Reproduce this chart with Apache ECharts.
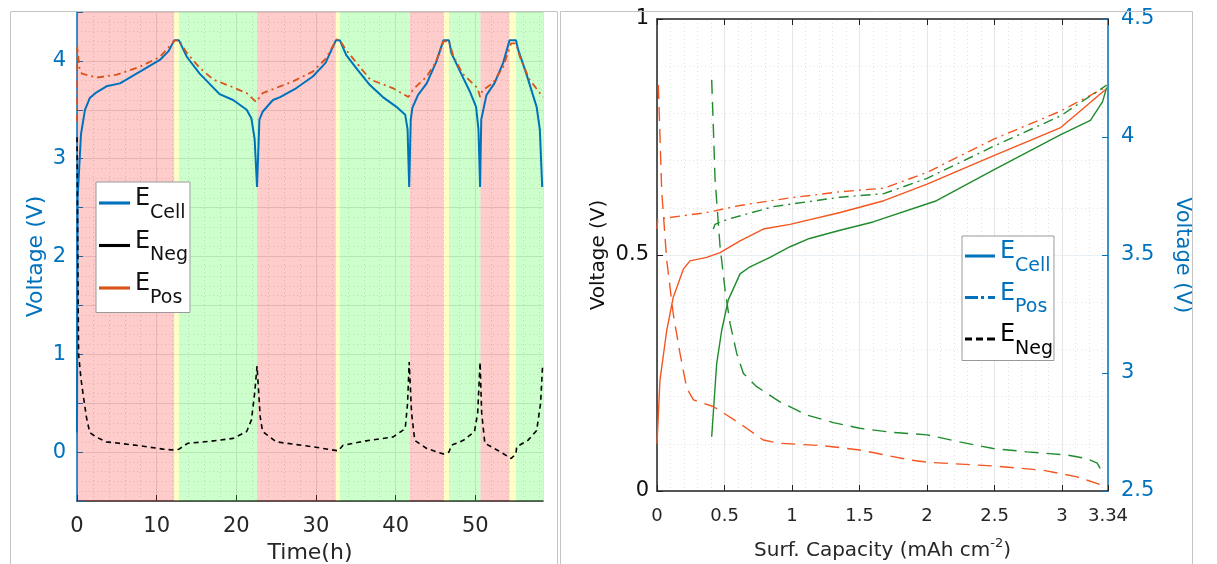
<!DOCTYPE html>
<html>
<head>
<meta charset="utf-8">
<script src="https://cdn.jsdelivr.net/npm/echarts@6/dist/echarts.min.js"></script>
<style>
html,body{margin:0;padding:0;background:#fff;}
#c{width:1217px;height:564px;}
</style>
</head>
<body>
<div id="c"></div>
<script>
// ---------- Left panel data: time (h) vs voltage (V) ----------
const phaseBands = [
  [0, 12.2, 'charge'], [12.2, 12.8, 'rest'], [12.8, 22.6, 'discharge'],
  [22.6, 32.5, 'charge'], [32.5, 33.0, 'rest'], [33.0, 41.8, 'discharge'],
  [41.8, 46.05, 'charge'], [46.05, 46.7, 'rest'], [46.7, 50.65, 'discharge'],
  [50.65, 54.3, 'charge'], [54.3, 55.1, 'rest'], [55.1, 58.5, 'discharge']
];
const cellTime = [
  [0,0.2],[0.08,2.6],[0.5,3.25],[1.0,3.5],[1.6,3.62],[2.3,3.67],[3.7,3.74],[5.4,3.77],[7.9,3.89],[10.4,4.01],[11.5,4.1],[12.2,4.21],[12.8,4.21],
  [13.8,4.04],[15.4,3.87],[17.9,3.66],[19.6,3.6],[21.3,3.5],[21.9,3.41],[22.3,3.2],[22.6,2.71],
  [22.9,3.4],[23.3,3.48],[24.6,3.6],[25.5,3.63],[27.5,3.72],[29.6,3.84],[31.2,3.98],[32.5,4.21],[33.0,4.21],
  [33.8,4.06],[35.3,3.9],[36.8,3.75],[38.4,3.63],[40.1,3.53],[41.2,3.45],[41.5,3.3],[41.7,2.71],
  [41.9,3.4],[42.1,3.52],[42.8,3.65],[43.9,3.77],[45.1,3.99],[46.0,4.21],[46.7,4.21],
  [47.0,4.08],[48.1,3.89],[49.3,3.69],[50.1,3.53],[50.4,3.3],[50.6,2.71],
  [50.75,3.4],[51.4,3.65],[52.4,3.77],[53.5,3.98],[54.3,4.21],[55.1,4.21],
  [55.4,4.11],[56.4,3.87],[57.7,3.53],[58.1,3.3],[58.4,2.71]
];
const negTime = [
  [0,3.22],[0.1,2.0],[0.2,1.0],[0.5,0.75],[0.8,0.57],[1.2,0.35],[1.6,0.2],[2.5,0.15],[3.7,0.105],[7.9,0.065],[10.8,0.03],[12.3,0.02],[12.8,0.03],
  [13.9,0.09],[16.7,0.11],[19.6,0.14],[21.3,0.21],[21.9,0.33],[22.3,0.6],[22.6,0.88],
  [23.0,0.36],[23.3,0.21],[25.0,0.105],[29.6,0.054],[32.8,0.013],
  [33.4,0.07],[36.3,0.115],[39.7,0.155],[41.2,0.24],[41.5,0.5],[41.7,0.92],
  [42.0,0.4],[42.4,0.12],[43.9,0.037],[46.0,-0.02],[46.7,0.0],
  [47.0,0.07],[48.5,0.12],[49.9,0.21],[50.3,0.4],[50.6,0.92],
  [50.8,0.4],[51.2,0.09],[53.1,0.005],[54.5,-0.065],[55.1,-0.02],
  [55.2,0.055],[56.6,0.12],[57.7,0.22],[58.2,0.5],[58.45,0.89]
];
const posTime = [
  [0,3.38],[0.03,4.15],[0.3,3.93],[0.6,3.87],[2.5,3.83],[5,3.86],[7.9,3.94],[10.4,4.04],[12.3,4.21],[12.8,4.21],
  [13.8,4.08],[15.4,3.93],[17.1,3.81],[19.6,3.73],[21.3,3.67],[22.5,3.58],
  [23.3,3.67],[25.5,3.74],[27.1,3.79],[29.6,3.89],[31.2,4.02],[32.6,4.22],[33.0,4.21],
  [33.8,4.11],[36.8,3.81],[39.7,3.72],[41.6,3.63],
  [42.2,3.71],[43.9,3.84],[45.0,3.98],[46.0,4.2],[46.7,4.2],
  [47.2,4.06],[48.4,3.87],[50.3,3.72],[50.6,3.63],
  [50.9,3.7],[52.2,3.77],[53.5,3.94],[54.5,4.18],[55.1,4.18],
  [55.6,4.04],[56.8,3.81],[58.5,3.63]
];
const leftXTicks = [0, 10, 20, 30, 40, 50];
const leftYTicks = [0, 1, 2, 3, 4];

// ---------- Right panel data: surface capacity (mAh cm-2) vs voltage ----------
const cellCapA = [[0,2.70],[0.022,2.97],[0.072,3.18],[0.12,3.32],[0.195,3.44],[0.244,3.475],[0.368,3.49],[0.467,3.51],[0.615,3.56],[0.787,3.61],[0.985,3.63],[1.356,3.68],[1.68,3.73],[2.0,3.80],[2.49,3.92],[2.99,4.04],[3.32,4.20]];
const cellCapB = [[0.405,2.73],[0.442,3.04],[0.479,3.18],[0.528,3.31],[0.615,3.42],[0.689,3.45],[0.837,3.49],[0.985,3.535],[1.13,3.57],[1.356,3.605],[1.6,3.64],[2.07,3.73],[2.49,3.86],[2.99,4.01],[3.21,4.07],[3.3,4.15],[3.33,4.21]];
const posCapA = [[0.0,3.61],[0.005,3.65],[0.047,3.655],[0.368,3.68],[0.615,3.71],[0.96,3.74],[1.356,3.768],[1.68,3.783],[2.0,3.85],[2.49,3.99],[2.99,4.11],[3.32,4.21]];
const posCapB = [[0.417,3.61],[0.43,3.63],[0.516,3.65],[0.862,3.705],[1.356,3.745],[1.68,3.76],[2.0,3.825],[2.49,3.96],[2.99,4.09],[3.33,4.22]];
const negCapA = [[0.01,0.86],[0.035,0.634],[0.072,0.489],[0.12,0.376],[0.17,0.292],[0.22,0.218],[0.27,0.193],[0.417,0.179],[0.516,0.161],[0.664,0.133],[0.787,0.108],[0.91,0.101],[1.23,0.096],[1.5,0.087],[1.87,0.066],[2.0,0.061],[2.49,0.053],[2.86,0.044],[3.11,0.030],[3.33,0.009]];
const negCapB = [[0.405,0.871],[0.417,0.772],[0.43,0.66],[0.467,0.518],[0.504,0.426],[0.541,0.355],[0.59,0.292],[0.64,0.249],[0.738,0.221],[0.91,0.189],[1.11,0.161],[1.306,0.145],[1.5,0.133],[1.75,0.124],[2.0,0.119],[2.24,0.104],[2.49,0.090],[2.74,0.083],[3.04,0.076],[3.18,0.069],[3.26,0.059],[3.29,0.044]];

const legendSubs = {ECell:'Cell', ENeg:'Neg', EPos:'Pos', RCell:'Cell', RPos:'Pos', RNeg:'Neg'};

// ---------- styles ----------
const FONT = 'DejaVu Sans';
const BLUE = '#0072BD', ORANGE = '#D95319', DARK = '#262626';
const RORANGE = '#F4561F', RGREEN = '#1F8B2C';
const bandColor = {charge:'rgba(255,0,0,0.2)', rest:'rgba(255,255,0,0.22)', discharge:'rgba(0,255,0,0.2)'};
const ICON_SOLID = 'path://M0,0 L30,0 L30,3 L0,3 Z';
const ICON_DASHDOT = 'path://M0,0 L13,0 L13,3 L0,3 Z M16,0 L19,0 L19,3 L16,3 Z M23,0 L30,0 L30,3 L23,3 Z';
const ICON_DASH = 'path://M0,0 L7,0 L7,3 L0,3 Z M11,0 L18,0 L18,3 L11,3 Z M22,0 L30,0 L30,3 L22,3 Z';

const chart = echarts.init(document.getElementById('c'), null, {renderer:'canvas'});

const minorDot = {show:true, lineStyle:{color:'#dddddd', type:[1,3], width:1}};
function mkRich(col) {
  return {
    e:{fontSize:24, fontFamily:FONT, color:col, lineHeight:20},
    sp:{fontSize:10, width:15, lineHeight:8},
    s:{fontSize:19, fontFamily:FONT, color:col, lineHeight:8}
  };
}
const fmt = n => '{e|E}\n{sp| }{s|' + legendSubs[n] + '}';

const option = {
  animation:false,
  textStyle:{fontFamily:FONT},
  graphic:[
    {type:'rect', shape:{x:10.5,y:11.5,width:547,height:560}, style:{fill:'none', stroke:'#c4c4c4', lineWidth:1}, z:100, silent:true},
    {type:'rect', shape:{x:560.5,y:11.5,width:632,height:560}, style:{fill:'none', stroke:'#c4c4c4', lineWidth:1}, z:100, silent:true}
  ],
  grid:[
    {left:77, top:12, width:466, height:489, containLabel:false, outerBoundsMode:'none'},
    {left:657, top:19, width:451, height:472, containLabel:false, outerBoundsMode:'none'}
  ],
  xAxis:[
    {gridIndex:0, type:'value', min:0, max:58.5, interval:10,
     name:'Time(h)', nameLocation:'middle', nameGap:41, nameTextStyle:{fontSize:22, color:DARK, fontFamily:FONT},
     axisLine:{show:true, onZero:false, lineStyle:{color:DARK, width:1.5}},
     axisTick:{show:true, inside:true, length:6, lineStyle:{color:DARK}},
     axisLabel:{fontSize:21, color:DARK, margin:15, showMaxLabel:false, fontFamily:FONT,
       formatter:v => leftXTicks.includes(v) ? String(v) : ''},
     splitLine:{show:true, lineStyle:{color:'#e2e2e2', width:1}},
     minorTick:{show:false, splitNumber:5}, minorSplitLine:minorDot},
    {gridIndex:1, type:'value', min:0, max:3.34, interval:0.5,
     name:'{n|Surf. Capacity (mAh cm}{p|-2}{n|)}', nameLocation:'middle', nameGap:46,
     nameTextStyle:{color:DARK, rich:{n:{fontSize:20, fontFamily:FONT, color:DARK, verticalAlign:'bottom', lineHeight:24}, p:{fontSize:13, fontFamily:FONT, color:DARK, verticalAlign:'top', padding:[0,0,10,0]}}},
     axisLine:{show:true, onZero:false, lineStyle:{color:'#222', width:1.5}},
     axisTick:{show:true, inside:true, length:6, lineStyle:{color:'#222'}},
     axisLabel:{fontSize:18, color:DARK, margin:16, fontFamily:FONT},
     splitLine:{show:true, lineStyle:{color:'#e6e6e6', width:1}},
     minorTick:{show:false, splitNumber:5}, minorSplitLine:{show:true, lineStyle:{color:'#e2e2e2', type:[1,3]}}},
    {gridIndex:1, type:'value', position:'top', min:0, max:3.34, interval:0.5,
     axisLine:{show:true, onZero:false, lineStyle:{color:'#222', width:1.5}},
     axisTick:{show:true, inside:true, length:6, lineStyle:{color:'#222'}},
     axisLabel:{show:false}, splitLine:{show:false}}
  ],
  yAxis:[
    {gridIndex:0, type:'value', min:-0.5, max:4.5, interval:0.5,
     name:'Voltage (V)', nameLocation:'middle', nameGap:30, nameTextStyle:{fontSize:22, color:BLUE, fontFamily:FONT},
     axisLine:{show:true, onZero:false, lineStyle:{color:BLUE, width:1.5}},
     axisTick:{show:true, inside:true, length:6, lineStyle:{color:BLUE}},
     axisLabel:{fontSize:21, color:BLUE, margin:11, fontFamily:FONT,
       formatter:v => leftYTicks.includes(v) ? String(v) : ''},
     splitLine:{show:true, lineStyle:{color:'#e2e2e2', width:1}},
     minorTick:{show:false, splitNumber:5}, minorSplitLine:minorDot},
    {gridIndex:1, type:'value', min:0, max:1, interval:0.5,
     name:'Voltage (V)', nameLocation:'middle', nameGap:48, nameTextStyle:{fontSize:20, color:'#111', fontFamily:FONT},
     axisLine:{show:true, onZero:false, lineStyle:{color:'#222', width:1.5}},
     axisTick:{show:true, inside:true, length:6, lineStyle:{color:'#222'}},
     axisLabel:{fontSize:21, color:'#111', margin:8, fontFamily:FONT},
     splitLine:{show:true, lineStyle:{color:'#e8f0f6', width:1}},
     minorTick:{show:false, splitNumber:5}, minorSplitLine:{show:true, lineStyle:{color:'#e2e2e2', type:[1,3]}}},
    {gridIndex:1, type:'value', position:'right', min:2.5, max:4.5, interval:0.5,
     name:'Voltage (V)', nameLocation:'middle', nameGap:64, nameRotate:-90, nameTextStyle:{fontSize:21, color:BLUE, fontFamily:FONT},
     axisLine:{show:true, onZero:false, lineStyle:{color:BLUE, width:1.5}},
     axisTick:{show:true, inside:true, length:6, lineStyle:{color:BLUE}},
     axisLabel:{fontSize:21, color:BLUE, margin:13, fontFamily:FONT},
     splitLine:{show:false}}
  ],
  legend:[
    {orient:'vertical', left:96, top:182, backgroundColor:'#fff', borderColor:'#9a9a9a', borderWidth:1,
     padding:[5,2,5,3], itemGap:7, itemWidth:31, itemHeight:14, selectedMode:false,
     formatter:fmt, textStyle:{color:'#111', rich:mkRich('#111')},
     data:[
       {name:'ECell', icon:ICON_SOLID, itemStyle:{color:BLUE}},
       {name:'ENeg', icon:ICON_SOLID, itemStyle:{color:'#000'}},
       {name:'EPos', icon:ICON_SOLID, itemStyle:{color:ORANGE}}
     ]},
    {orient:'vertical', left:962, top:236, backgroundColor:'#fff', borderColor:'#9a9a9a', borderWidth:1,
     padding:[4,1,2,3], itemGap:6, itemWidth:30, itemHeight:14, selectedMode:false,
     formatter:fmt, textStyle:{color:'#111', rich:mkRich('#111')},
     data:[
       {name:'RCell', icon:ICON_SOLID, itemStyle:{color:BLUE}, textStyle:{color:BLUE, rich:mkRich(BLUE)}},
       {name:'RPos', icon:ICON_DASHDOT, itemStyle:{color:BLUE}, textStyle:{color:BLUE, rich:mkRich(BLUE)}},
       {name:'RNeg', icon:ICON_DASH, itemStyle:{color:'#000'}, textStyle:{color:'#000', rich:mkRich('#000')}}
     ]}
  ],
  series:[
    {name:'bands', type:'line', xAxisIndex:0, yAxisIndex:0, data:[], silent:true, z:1,
     markArea:{silent:true, data: phaseBands.map(b => [{xAxis:b[0], itemStyle:{color:bandColor[b[2]]}}, {xAxis:b[1]}])}},
    {name:'ECell', type:'line', xAxisIndex:0, yAxisIndex:0, data:cellTime, showSymbol:false, symbol:'none', z:5,
     lineStyle:{color:BLUE, width:2}, itemStyle:{color:BLUE}},
    {name:'ENeg', type:'line', xAxisIndex:0, yAxisIndex:0, data:negTime, showSymbol:false, symbol:'none', z:5,
     lineStyle:{color:'#000', width:1.6, type:[5,4]}, itemStyle:{color:'#000'}},
    {name:'EPos', type:'line', xAxisIndex:0, yAxisIndex:0, data:posTime, showSymbol:false, symbol:'none', z:5,
     lineStyle:{color:ORANGE, width:1.8, type:[7,4,2,4]}, itemStyle:{color:ORANGE}},

    {name:'cellA', type:'line', xAxisIndex:1, yAxisIndex:2, data:cellCapA, showSymbol:false, symbol:'none', z:5,
     lineStyle:{color:RORANGE, width:1.4}},
    {name:'cellB', type:'line', xAxisIndex:1, yAxisIndex:2, data:cellCapB, showSymbol:false, symbol:'none', z:5,
     lineStyle:{color:RGREEN, width:1.4}},
    {name:'posA', type:'line', xAxisIndex:1, yAxisIndex:2, data:posCapA, showSymbol:false, symbol:'none', z:5,
     lineStyle:{color:RORANGE, width:1.4, type:[10,5,2,5]}},
    {name:'posB', type:'line', xAxisIndex:1, yAxisIndex:2, data:posCapB, showSymbol:false, symbol:'none', z:5,
     lineStyle:{color:RGREEN, width:1.4, type:[10,5,2,5]}},
    {name:'negA', type:'line', xAxisIndex:1, yAxisIndex:1, data:negCapA, showSymbol:false, symbol:'none', z:5,
     lineStyle:{color:RORANGE, width:1.4, type:[14,8]}},
    {name:'negB', type:'line', xAxisIndex:1, yAxisIndex:1, data:negCapB, showSymbol:false, symbol:'none', z:5,
     lineStyle:{color:RGREEN, width:1.4, type:[14,8]}},

    {name:'RCell', type:'line', xAxisIndex:1, yAxisIndex:1, data:[], symbol:'none', itemStyle:{color:BLUE}},
    {name:'RPos', type:'line', xAxisIndex:1, yAxisIndex:1, data:[], symbol:'none', itemStyle:{color:BLUE}},
    {name:'RNeg', type:'line', xAxisIndex:1, yAxisIndex:1, data:[], symbol:'none', itemStyle:{color:'#000'}}
  ]
};
chart.setOption(option);
</script>
</body>
</html>
